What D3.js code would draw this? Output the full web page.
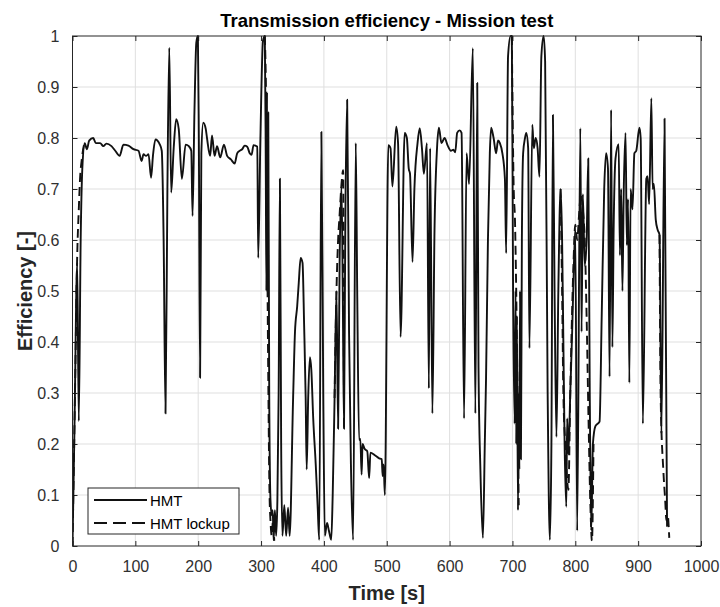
<!DOCTYPE html>
<html>
<head>
<meta charset="utf-8">
<title>Transmission efficiency - Mission test</title>
<script src="https://cdn.jsdelivr.net/npm/d3@7"></script>
<style>
	body { margin: 0; background: #fff; }
	svg { display: block; font-family: "Liberation Sans", Arial, Helvetica, sans-serif; }
	.tick-label { fill: #303030; font-size: 16px; }
	.grid line { stroke: #dfdfdf; stroke-width: 1; }
</style>
</head>
<body>
<div id="chart"></div>
<script>
/*globals d3 */
// [time s, efficiency -]
var hmtPoints = [
	[0,0],[3,0.22],[7.5,0.555],[10,0.245],[13,0.6],[16,0.75],[19.5,0.79],[23,0.778],[26.5,0.795],
	[33,0.80],[37,0.79],[44,0.79],[49,0.784],[54,0.789],[62,0.784],[68,0.775],[75,0.765],[81,0.787],
	[89,0.785],[97,0.778],[105,0.775],[110,0.755],[113,0.768],[117,0.765],[121,0.768],[125,0.722],
	[128,0.765],[132,0.797],[139,0.787],[142,0.775],[145,0.6],[148,0.26],[151,0.7],[154,0.977],
	[157,0.693],[161,0.78],[165,0.837],[169,0.818],[174,0.72],[180,0.787],[185,0.784],[189,0.775],
	[191,0.647],[194,0.85],[197,0.987],[199.5,1.0],[201,0.8],[203,0.33],[205,0.77],[208,0.83],
	[212,0.818],[214,0.80],[219,0.765],[222,0.805],[226,0.765],[230,0.784],[235,0.762],[241,0.787],
	[246,0.765],[252,0.758],[258,0.75],[262,0.77],[266,0.775],[270,0.778],[274,0.785],[278,0.783],
	[282,0.77],[285,0.767],[288,0.786],[291,0.785],[294,0.783],[295.5,0.565],[299,0.8],[303,0.99],
	[306,1.0],[307.5,0.75],[308.5,0.5],[309.5,0.89],[310.5,0.5],[311.5,0.85],[313,0.3],[315,0.09],
	[317,0.06],[318.5,0.07],[320,0.012],[322,0.07],[324,0.02],[326,0.09],[328,0.3],[330,0.72],
	[332,0.2],[334,0.02],[337,0.08],[340,0.02],[343,0.075],[345.5,0.02],[351,0.29],[354,0.42],
	[357.5,0.47],[360,0.516],[363,0.565],[366,0.555],[368.5,0.435],[371,0.29],[372.6,0.15],
	[375,0.29],[377.7,0.37],[380,0.345],[383,0.25],[387,0.16],[390,0.08],[392.6,0.012],[396,0.812],
	[399,0.29],[401.5,0.02],[405,0.045],[408,0.03],[411.7,0.012],[414,0.1],[417,0.29],[420,0.5],
	[422.6,0.23],[425,0.555],[428,0.705],[430,0.5],[432,0.23],[434,0.62],[437,0.875],[440,0.42],
	[443,0.16],[446.5,0.012],[450.7,0.79],[453,0.5],[456,0.208],[458,0.21],[460,0.14],[461.5,0.2],
	[465,0.19],[469,0.186],[472,0.133],[474,0.183],[481,0.178],[488,0.172],[492,0.17],[493.5,0.137],
	[495,0.16],[497,0.10],[502.5,0.786],[506,0.78],[509,0.705],[515,0.822],[518,0.79],[522,0.41],
	[528.5,0.81],[532,0.80],[535,0.74],[537,0.73],[541,0.557],[544,0.7],[549,0.79],[552.5,0.819],
	[556,0.78],[559,0.73],[564,0.79],[567,0.309],[569,0.78],[572.6,0.26],[576,0.62],[580,0.78],
	[583,0.82],[587,0.79],[592,0.80],[597,0.785],[602,0.775],[606,0.777],[609,0.772],[612,0.81],
	[616,0.815],[619,0.81],[623,0.25],[627,0.77],[631,0.71],[637,0.976],[641,0.26],[644,0.908],
	[646,0.35],[649,0.15],[653,0.016],[656,0.2],[658,0.33],[661,0.6],[664,0.77],[666,0.82],
	[670,0.80],[674,0.77],[677,0.795],[680,0.79],[684,0.77],[688,0.72],[690,0.574],[693,0.96],
	[697,1.0],[699,1.0],[701,0.5],[703.5,0.24],[705,0.5],[706,0.2],[707,0.45],[708.8,0.07],
	[710,0.3],[711,0.15],[712,0.5],[713.5,0.17],[715,0.6],[717,0.77],[720,0.80],[722,0.81],
	[725,0.78],[727,0.388],[731.6,0.826],[734,0.78],[737,0.80],[740,0.78],[743,0.724],[746,0.96],
	[749.6,1.0],[752,0.95],[756,0.3],[759.5,0.012],[762,0.2],[764.4,0.845],[767,0.5],[770,0.214],
	[773,0.5],[776.6,0.70],[779,0.6],[781,0.4],[783,0.2],[785.7,0.077],[787,0.25],[789,0.18],
	[792,0.3],[795,0.42],[798,0.56],[800,0.62],[803,0.03],[808,0.819],[810,0.42],[812,0.69],
	[815,0.55],[818,0.6],[820.6,0.76],[823,0.3],[825.4,0.03],[828,0.2],[832,0.235],[838.6,0.244],
	[842,0.45],[846,0.7],[849,0.77],[852,0.74],[854.5,0.332],[857,0.855],[859,0.39],[861,0.62],
	[864,0.76],[869,0.788],[871,0.57],[873,0.70],[875,0.5],[877,0.69],[880,0.81],[882,0.59],
	[884,0.68],[886,0.32],[888,0.70],[891,0.66],[894,0.77],[897,0.775],[902,0.82],[904,0.80],
	[907.5,0.24],[913,0.72],[915,0.725],[917.5,0.67],[921,0.878],[923,0.70],[925,0.71],[928,0.64],
	[931,0.62],[934,0.61],[937,0.22],[942,0.838],[946,0.038]
];
// lockup only where it leaves the HMT curve (null = hidden under HMT)
var lockupPoints = [
	[0,0],[4,0.3],[7.5,0.57],[10,0.66],[12,0.72],[15,0.76],[18,0.785],[19.5,0.79], null,
	[306,1.0],[308,0.88],[311,0.4],[313.5,0.1],[315,0.05],[317,0.02],[319,0.05],[321,0.01], null,
	[417,0.29],[420,0.5],[422.6,0.6],[425,0.65],[428,0.71],[430.6,0.737],[432,0.23], null,
	[699,1.0],[702,0.7],[704,0.64],[706,0.5],[708,0.3],[710,0.08], null,
	[776.6,0.70],[779,0.5],[781,0.3],[784,0.2],[786,0.15],[789,0.11],[792,0.3],[797,0.55],
	[800,0.63],[803,0.6],[806,0.65],[809,0.69],[812,0.66],[815,0.6],[818,0.45],[821,0.25],
	[824,0.08],[826.5,0.01],[829,0.2], null,
	[934,0.61],[936,0.28],[940,0.15],[943,0.09],[945,0.05],[947,0.06],[949.5,0.016]
];
var xTicks = [0, 100, 200, 300, 400, 500, 600, 700, 800, 900, 1000];
var yTicks = [0, 0.1, 0.2, 0.3, 0.4, 0.5, 0.6, 0.7, 0.8, 0.9, 1];
var seriesNames = ["HMT", "HMT lockup"];

(function() {
	"use strict";
	var W = 720, H = 607,
	box = { left: 72.5, right: 701, top: 36, bottom: 546 },
	axisColor = "#262626",
	lineColor = "#111",
	lineWidth = 1.9,
	tickLen = 5;

	var svg = d3.select("#chart").append("svg")
	.attr("width", W)
	.attr("height", H);

	var x = d3.scaleLinear().domain([0, 1000]).range([box.left, box.right]);
	var y = d3.scaleLinear().domain([0, 1]).range([box.bottom, box.top]);

	// grid
	var grid = svg.append("g").attr("class", "grid");
	grid.selectAll("line.gx").data(xTicks.slice(1, -1)).enter().append("line")
	.attr("class", "gx")
	.attr("x1", function(d) { return x(d); })
	.attr("x2", function(d) { return x(d); })
	.attr("y1", box.top).attr("y2", box.bottom);
	grid.selectAll("line.gy").data(yTicks.slice(1, -1)).enter().append("line")
	.attr("class", "gy")
	.attr("y1", function(d) { return y(d); })
	.attr("y2", function(d) { return y(d); })
	.attr("x1", box.left).attr("x2", box.right);

	// axes, ticks pointing inwards on all four sides
	function styleAxis(g) {
		g.attr("font-size", null).attr("font-family", null);
		g.select(".domain").remove();
		g.selectAll(".tick line").attr("stroke", axisColor);
		g.selectAll(".tick text").attr("class", "tick-label").attr("fill", null);
	}

	svg.append("g").attr("transform", "translate(0," + box.bottom + ")")
	.call(d3.axisBottom(x).tickValues(xTicks).tickFormat(d3.format("d"))
		.tickSizeInner(-tickLen).tickSizeOuter(0).tickPadding(15))
	.call(styleAxis);
	svg.append("g").attr("transform", "translate(0," + box.top + ")")
	.call(d3.axisTop(x).tickValues(xTicks).tickSizeInner(-tickLen).tickSizeOuter(0).tickFormat(""))
	.call(styleAxis);
	svg.append("g").attr("transform", "translate(" + box.left + ",0)")
	.call(d3.axisLeft(y).tickValues(yTicks).tickFormat(d3.format("~g"))
		.tickSizeInner(-tickLen).tickSizeOuter(0).tickPadding(13))
	.call(styleAxis);
	svg.append("g").attr("transform", "translate(" + box.right + ",0)")
	.call(d3.axisRight(y).tickValues(yTicks).tickSizeInner(-tickLen).tickSizeOuter(0).tickFormat(""))
	.call(styleAxis);

	// data (monotone keeps the sampled peaks, rounds them like the original trace)
	var line = d3.line()
	.defined(function(d) { return d !== null; })
	.curve(d3.curveMonotoneX)
	.x(function(d) { return x(d[0]); })
	.y(function(d) { return y(d[1]); });

	svg.append("clipPath").attr("id", "plotClip").append("rect")
	.attr("x", box.left).attr("y", box.top - 2)
	.attr("width", box.right - box.left).attr("height", box.bottom - box.top + 2);

	var plot = svg.append("g").attr("clip-path", "url(#plotClip)");
	plot.append("path").datum(hmtPoints)
	.attr("d", line)
	.attr("fill", "none")
	.attr("stroke", lineColor)
	.attr("stroke-width", lineWidth)
	.attr("stroke-linejoin", "round");
	plot.append("path").datum(lockupPoints)
	.attr("d", line)
	.attr("fill", "none")
	.attr("stroke", lineColor)
	.attr("stroke-width", lineWidth)
	.attr("stroke-dasharray", "9,5");

	// box
	svg.append("rect")
	.attr("x", box.left).attr("y", box.top)
	.attr("width", box.right - box.left).attr("height", box.bottom - box.top)
	.attr("fill", "none")
	.attr("stroke", axisColor)
	.attr("stroke-width", 1);

	// texts
	svg.append("text")
	.attr("x", (box.left + box.right) / 2).attr("y", 27)
	.attr("text-anchor", "middle")
	.attr("font-weight", "bold").attr("font-size", 18.5)
	.attr("fill", "#000")
	.text("Transmission efficiency - Mission test");
	svg.append("text")
	.attr("x", (box.left + box.right) / 2).attr("y", 600)
	.attr("text-anchor", "middle")
	.attr("font-weight", "bold").attr("font-size", 20)
	.attr("fill", axisColor)
	.text("Time [s]");
	svg.append("text")
	.attr("transform", "translate(32," + ((box.top + box.bottom) / 2) + ") rotate(-90)")
	.attr("text-anchor", "middle")
	.attr("font-weight", "bold").attr("font-size", 20)
	.attr("fill", axisColor)
	.text("Efficiency [-]");

	// legend
	var leg = svg.append("g").attr("transform", "translate(88,488)");
	leg.append("rect")
	.attr("width", 151).attr("height", 46)
	.attr("fill", "#fff")
	.attr("stroke", axisColor)
	.attr("stroke-width", 1);
	var item = leg.selectAll("g.item").data(seriesNames).enter().append("g")
	.attr("class", "item")
	.attr("transform", function(d, i) { return "translate(0," + (12 + i * 23) + ")"; });
	item.append("line")
	.attr("x1", 6).attr("x2", 59)
	.attr("stroke", lineColor)
	.attr("stroke-width", lineWidth)
	.attr("stroke-dasharray", function(d, i) { return i ? "13,6" : null; });
	item.append("text")
	.attr("x", 62).attr("y", 6)
	.attr("font-size", 15)
	.attr("fill", "#000")
	.text(function(d) { return d; });
}());
</script>
</body>
</html>
